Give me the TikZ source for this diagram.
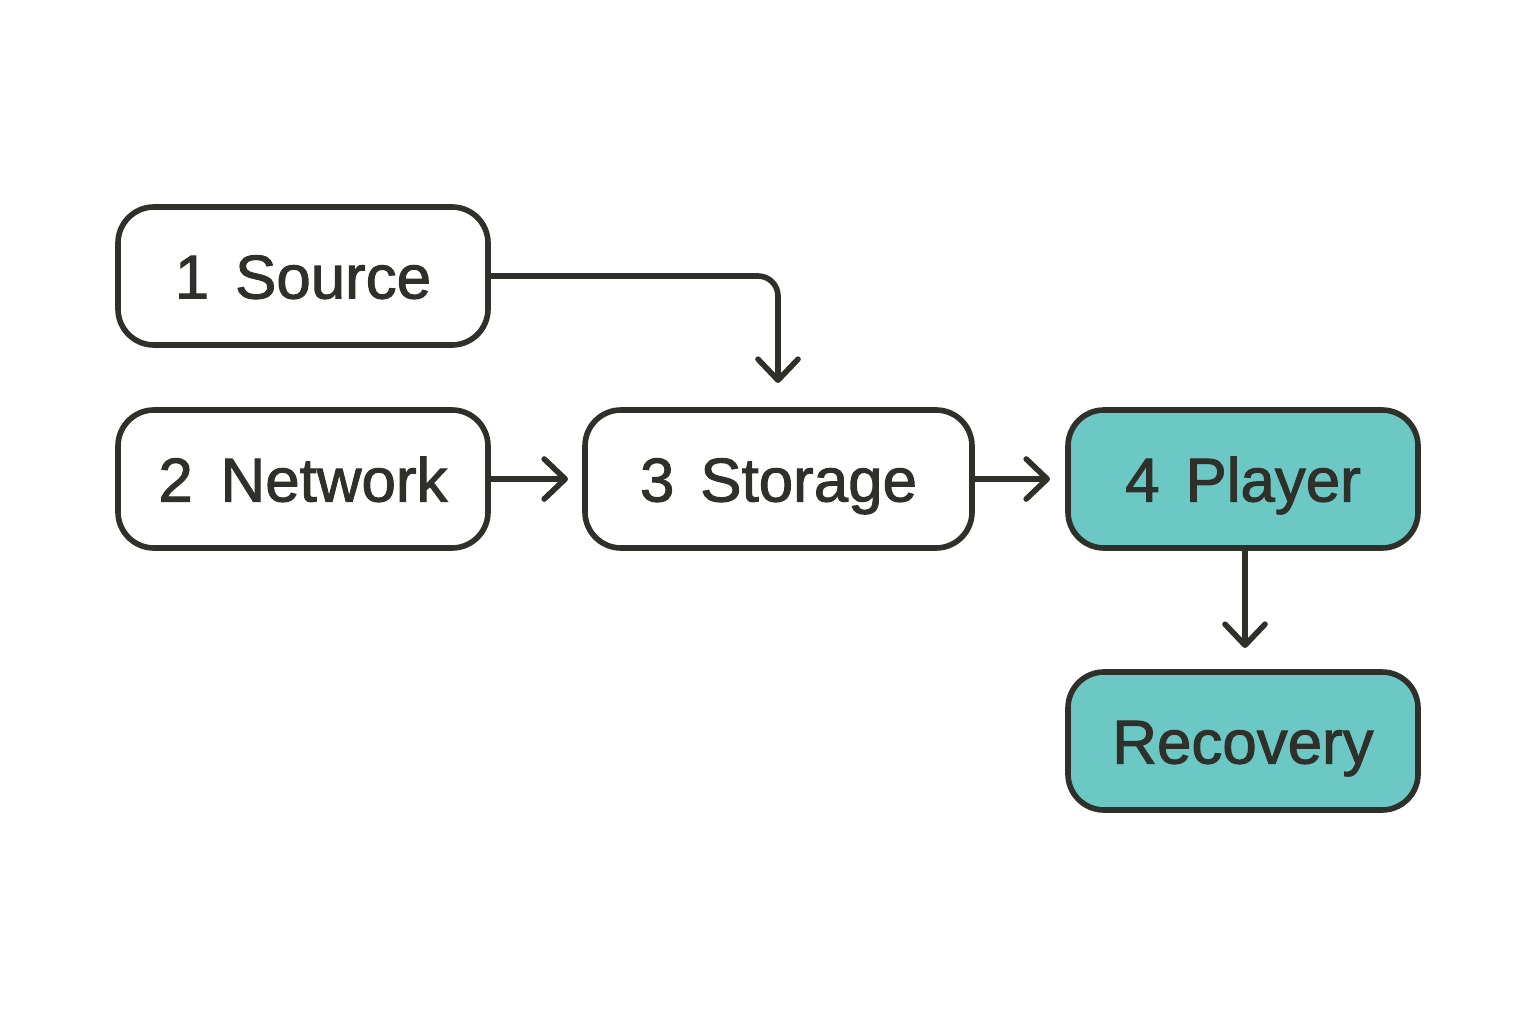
\documentclass[tikz,border=0pt]{standalone}
\usepackage{fontspec}
\setmainfont{Liberation Sans}[BoldFont={Liberation Sans}, BoldFeatures={FakeBold=1.6}]
\usetikzlibrary{arrows.meta}
\definecolor{ink}{HTML}{2E3029}
\definecolor{teal}{HTML}{6CC8C5}
\tikzset{
  box/.style={draw=ink, line width=1.6pt, rounded corners=0.36cm, minimum height=1.38cm, inner sep=0pt, text height=0.45cm, text depth=0pt, font=\fontsize{17.6}{20}\selectfont\bfseries, text=ink},
  hot/.style={box, fill=teal},
  conn/.style={draw=ink, line width=1.6pt, -{Straight Barb[length=2.1mm, width=4mm, line width=1.6pt, round]}},
}
\begin{document}
\begin{tikzpicture}
\useasboundingbox (0,0) rectangle (15.36,10.24);
\node[box, minimum width=3.70cm] (src) at (3.03,7.48) {1\hspace{0.42em}Source};
\node[box, minimum width=3.70cm] (net) at (3.03,5.45) {2\hspace{0.45em}Network};
\node[box, minimum width=3.87cm] (sto) at (7.785,5.45) {3\hspace{0.42em}Storage};
\node[hot, minimum width=3.50cm] (ply) at (12.43,5.45) {4\hspace{0.42em}Player};
\node[hot, minimum width=3.50cm] (rec) at (12.43,2.83) {Recovery};
\coordinate (srcend) at (7.78,6.41);
\draw[conn, rounded corners=0.2cm] (src.east) -| (srcend);
\coordinate (netend) at (5.68,5.45);
\draw[conn] (net.east) -- (netend);
\coordinate (stoend) at (10.50,5.45);
\draw[conn] (sto.east) -- (stoend);
\coordinate (plyend) at (12.45,3.76);
\draw[conn] (ply.south -| plyend) -- (plyend);
\end{tikzpicture}
\end{document}
